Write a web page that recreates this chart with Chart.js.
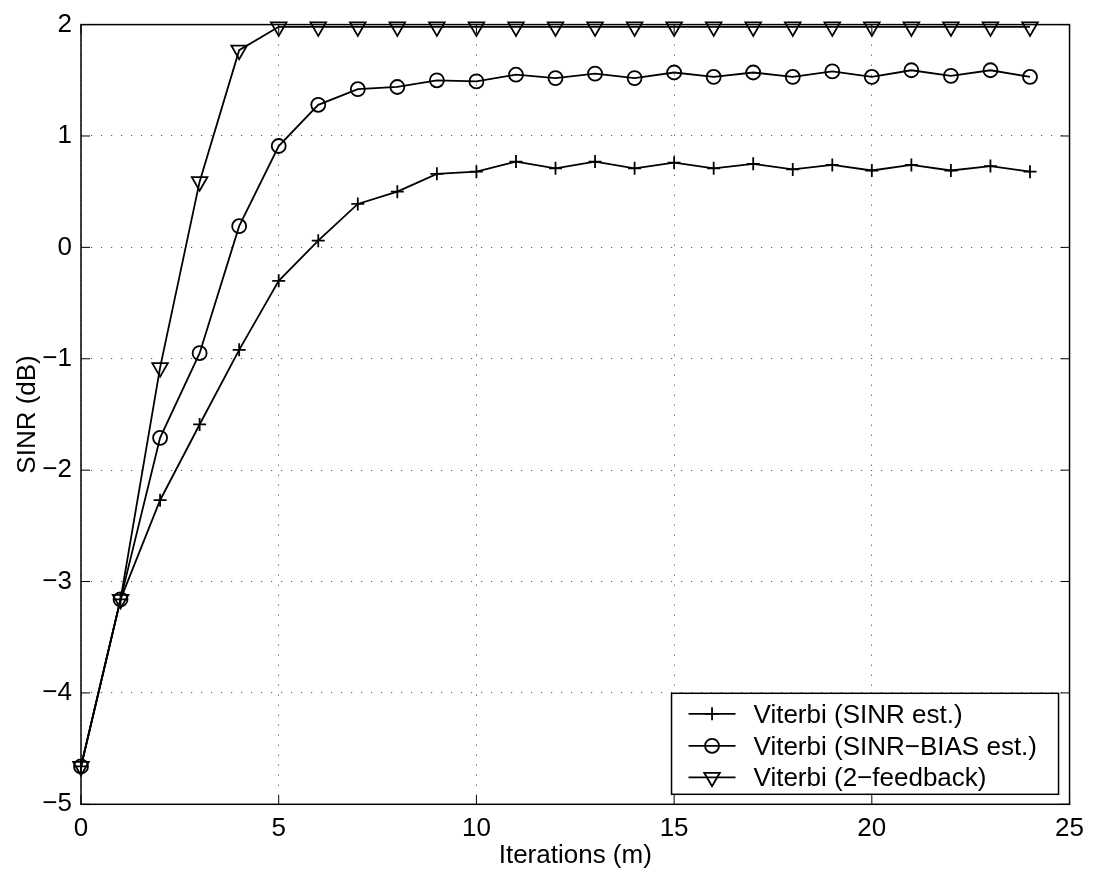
<!DOCTYPE html>
<html>
<head>
<meta charset="utf-8">
<title>SINR vs iterations</title>
<script src="https://cdn.jsdelivr.net/npm/chart.js@4/dist/chart.umd.min.js"></script>
<style>
  html, body { margin: 0; padding: 0; background: #fff; overflow: hidden; }
  #sinrChart { display: block; }
</style>
</head>
<body>
<canvas id="sinrChart" width="1093" height="874"></canvas>
<script>
'use strict'

// iteration index m
const iterations = [0, 1, 2, 3, 4, 5, 6, 7, 8, 9, 10, 11, 12, 13, 14, 15, 16, 17, 18, 19, 20, 21, 22, 23, 24];

// SINR in dB for each receiver
const sinrEst = [-4.66, -3.16, -2.27, -1.59, -0.92, -0.30, 0.06, 0.39, 0.50, 0.66, 0.68, 0.77, 0.71, 0.77, 0.71,
  0.76, 0.71, 0.75, 0.70, 0.74, 0.69, 0.74, 0.69, 0.73, 0.68];
const sinrBiasEst = [-4.66, -3.16, -1.71, -0.95, 0.19, 0.91, 1.28, 1.42, 1.44, 1.50, 1.49, 1.55, 1.52, 1.56, 1.52,
  1.57, 1.53, 1.57, 1.53, 1.58, 1.53, 1.59, 1.54, 1.59, 1.53];
const twoFeedback = [-4.66, -3.16, -1.08, 0.59, 1.77, 1.98, 1.98, 1.98, 1.98, 1.98, 1.98, 1.98, 1.98, 1.98, 1.98,
  1.98, 1.98, 1.98, 1.98, 1.98, 1.98, 1.98, 1.98, 1.98, 1.98];

const seriesLabels = ['Viterbi (SINR est.)', 'Viterbi (SINR\u2212BIAS est.)', 'Viterbi (2\u2212feedback)'];

const xTicks = [0, 5, 10, 15, 20, 25];
const yTicks = [-5, -4, -3, -2, -1, 0, 1, 2];

const FONT = '"Liberation Sans", Arial, Helvetica, sans-serif';
Chart.defaults.font.family = FONT;
Chart.defaults.font.size = 26;
Chart.defaults.color = '#000';

function series(label, values, style, rotation, radius) {
  return {
    label: label,
    data: iterations.map((m, i) => ({ x: m, y: values[i] })),
    borderColor: '#000',
    borderWidth: 1.8,
    backgroundColor: 'transparent',
    pointStyle: style,
    pointRotation: rotation,
    pointRadius: radius,
    pointBorderWidth: 1.8,
    pointBorderColor: '#000',
    pointBackgroundColor: 'transparent',
    tension: 0,
    fill: false,
    clip: false
  };
}

// minus sign like the original plot labels
function fmt(v) {
  return v < 0 ? '\u2212' + Math.abs(v) : String(v);
}

// box round the axes plus the small inward ticks on all four sides
const axesFrame = {
  id: 'axesFrame',
  afterDatasetsDraw(chart) {
    const { ctx, chartArea: a, scales } = chart;
    const len = 9;
    ctx.save();
    ctx.strokeStyle = '#000';
    ctx.lineWidth = 1;
    ctx.beginPath();
    xTicks.forEach(v => {
      const px = scales.x.getPixelForValue(v);
      ctx.moveTo(px, a.bottom); ctx.lineTo(px, a.bottom - len);
      ctx.moveTo(px, a.top); ctx.lineTo(px, a.top + len);
    });
    yTicks.forEach(v => {
      const py = scales.y.getPixelForValue(v);
      ctx.moveTo(a.left, py); ctx.lineTo(a.left + len, py);
      ctx.moveTo(a.right, py); ctx.lineTo(a.right - len, py);
    });
    ctx.stroke();
    ctx.lineWidth = 1.5;
    ctx.strokeRect(a.left, a.top, a.right - a.left, a.bottom - a.top);
    ctx.restore();
  }
};

// legend box in the lower right corner of the axes
const cornerLegend = {
  id: 'cornerLegend',
  afterDraw(chart) {
    const { ctx, chartArea: a } = chart;
    const w = 387, h = 101;
    const right = a.right - 11, bottom = a.bottom - 10;
    const left = right - w, top = bottom - h;
    ctx.save();
    ctx.fillStyle = '#fff';
    ctx.fillRect(left, top, w, h);
    ctx.strokeStyle = '#000';
    ctx.lineWidth = 1.5;
    ctx.strokeRect(left, top, w, h);
    ctx.font = '26px ' + FONT;
    ctx.textBaseline = 'alphabetic';
    ctx.textAlign = 'left';
    const rows = [20.5, 52.5, 84];
    chart.data.datasets.forEach((ds, i) => {
      const y = top + rows[i];
      ctx.strokeStyle = '#000';
      ctx.lineWidth = 1.8;
      ctx.beginPath();
      ctx.moveTo(left + 17, y);
      ctx.lineTo(left + 64, y);
      ctx.stroke();
      // hollow markers, same as on the curves
      ctx.fillStyle = 'rgba(0,0,0,0)';
      Chart.helpers.drawPoint(ctx, {
        pointStyle: ds.pointStyle,
        rotation: ds.pointRotation,
        radius: ds.pointRadius,
        borderWidth: ds.pointBorderWidth
      }, left + 40.5, y);
      ctx.fillStyle = '#000';
      ctx.fillText(ds.label, left + 82, y + 9);
    });
    ctx.restore();
  }
};

new Chart(document.getElementById('sinrChart'), {
  type: 'line',
  data: {
    datasets: [
      series(seriesLabels[0], sinrEst, 'cross', 0, 6.5),
      series(seriesLabels[1], sinrBiasEst, 'circle', 0, 7),
      series(seriesLabels[2], twoFeedback, 'triangle', 180, 9)
    ]
  },
  options: {
    responsive: false,
    animation: false,
    devicePixelRatio: 1,
    layout: { padding: { left: 0, right: 20, top: 23, bottom: 0 } },
    plugins: {
      legend: { display: false },
      tooltip: { enabled: false }
    },
    scales: {
      x: {
        type: 'linear',
        min: 0,
        max: 25,
        afterBuildTicks(scale) { scale.ticks = xTicks.map(v => ({ value: v })); },
        afterFit(scale) { scale.height = 69.7; },
        ticks: { padding: 9, maxRotation: 0, callback: fmt },
        grid: { drawTicks: false, color: '#555', lineWidth: 1 },
        border: { display: false, dash: [1.2, 8.8] },
        title: { display: true, text: 'Iterations (m)', padding: { top: 0, bottom: 3 } }
      },
      y: {
        type: 'linear',
        min: -5,
        max: 2,
        afterBuildTicks(scale) { scale.ticks = yTicks.map(v => ({ value: v })); },
        afterFit(scale) { scale.width = 81; },
        ticks: { padding: 9, callback: fmt },
        grid: { drawTicks: false, color: '#555', lineWidth: 1 },
        border: { display: false, dash: [1.2, 8.8] },
        title: { display: true, text: 'SINR (dB)', padding: { top: 12, bottom: 0 } }
      }
    }
  },
  plugins: [axesFrame, cornerLegend]
});
</script>
</body>
</html>
